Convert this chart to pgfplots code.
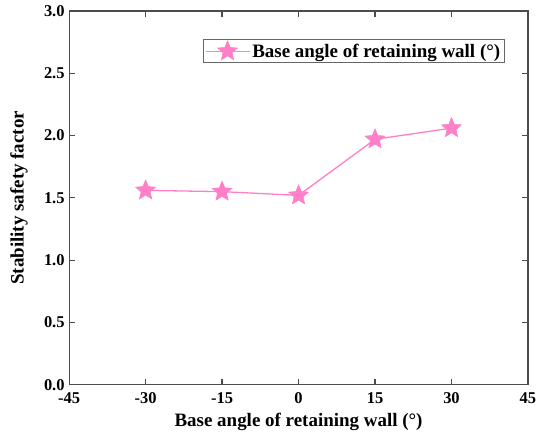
\documentclass[border=0pt]{standalone}
\usepackage{pgfplots}
\pgfplotsset{compat=1.18}
\usepackage{fontspec}
\setmainfont{Liberation Serif}
\definecolor{starpink}{HTML}{FF7FC8}
% filled five-pointed star
\pgfdeclareplotmark{fivestar}{%
  \pgfpathmoveto{\pgfqpointpolar{90}{\pgfplotmarksize}}%
  \pgfpathlineto{\pgfqpointpolar{126}{0.45\pgfplotmarksize}}%
  \pgfpathlineto{\pgfqpointpolar{162}{\pgfplotmarksize}}%
  \pgfpathlineto{\pgfqpointpolar{198}{0.45\pgfplotmarksize}}%
  \pgfpathlineto{\pgfqpointpolar{234}{\pgfplotmarksize}}%
  \pgfpathlineto{\pgfqpointpolar{270}{0.45\pgfplotmarksize}}%
  \pgfpathlineto{\pgfqpointpolar{306}{\pgfplotmarksize}}%
  \pgfpathlineto{\pgfqpointpolar{342}{0.45\pgfplotmarksize}}%
  \pgfpathlineto{\pgfqpointpolar{18}{\pgfplotmarksize}}%
  \pgfpathlineto{\pgfqpointpolar{54}{0.45\pgfplotmarksize}}%
  \pgfpathclose
  \pgfusepathqfillstroke
}
\begin{document}
\begin{tikzpicture}
\begin{axis}[
  width=458bp, height=373bp, scale only axis,
  xmin=-45, xmax=45, ymin=0, ymax=3,
  xtick={-45,-30,...,45},
  ytick={0,0.5,...,3},
  yticklabel style={xshift=-1bp, /pgf/number format/.cd, fixed, fixed zerofill, precision=1},
  /pgf/number format/assume math mode=true,
  tick align=inside, tick pos=both,
  major tick length=6bp,
  axis line style={line width=1.2pt, draw=black!70},
  tick style={line width=1.2pt, black!70},
  ticklabel style={font=\fontsize{16.5}{18}\selectfont\bfseries},
  xticklabel style={yshift=-4bp},
  xlabel={Base angle of retaining wall (°)},
  ylabel={Stability safety factor},
  label style={font=\fontsize{19}{22}\selectfont\bfseries},
  xlabel style={at={(axis description cs:0.5,0)}, anchor=center, yshift=-37bp},
  ylabel style={at={(axis description cs:0,0.5)}, anchor=center, yshift=50bp},
  legend style={at={(0.9476,0.925)}, anchor=north east, draw=black!60,
    font=\fontsize{19}{21}\selectfont\bfseries, inner sep=1.5bp},
  legend cell align=left,
  legend image code/.code={%
    \draw[mark repeat=2, mark phase=2] plot coordinates {(0bp,0bp) (22bp,0bp) (44bp,0bp)};},
]
\addplot[color=starpink, line width=1.3pt, mark=fivestar, mark size=10.5bp,
  mark options={fill=starpink, draw=starpink, line width=0.5pt}]
  coordinates {(-30,1.56) (-15,1.55) (0,1.52) (15,1.97) (30,2.06)};
\addlegendentry{Base angle of retaining wall (°)}
\end{axis}
\pgfresetboundingbox
\path ([shift={(-69bp,-53bp)}]current axis.south west)
  rectangle ([shift={(20bp,11bp)}]current axis.north east);
\end{tikzpicture}
\end{document}
